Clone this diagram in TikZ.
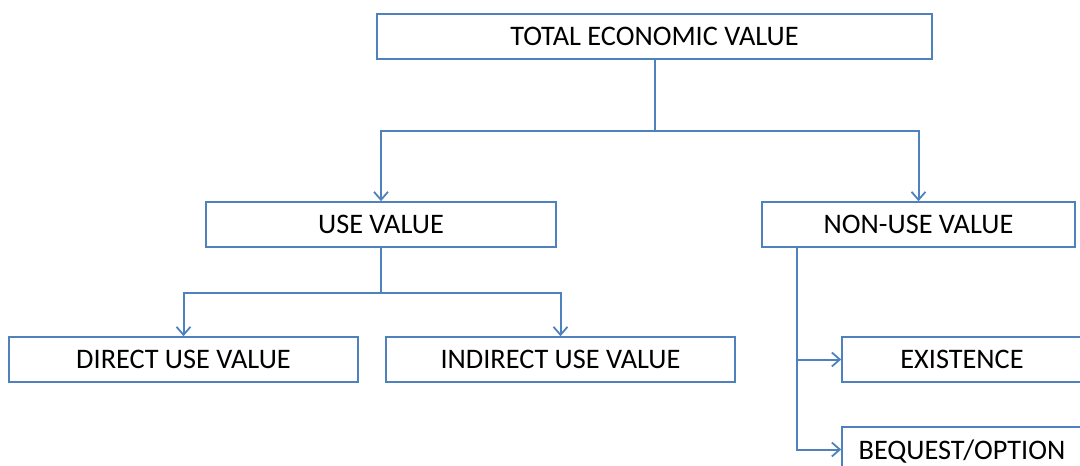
\documentclass[tikz,border=0pt]{standalone}
\usepackage{fontspec}
\setmainfont{Carlito}
\usetikzlibrary{arrows.meta,calc}
\definecolor{obl}{HTML}{4F81BD}
\begin{document}
\begin{tikzpicture}[x=1pt,y=-1pt,
  box/.style={draw=obl, line width=1.6pt, rectangle, inner sep=0pt, minimum height=45pt,
    text depth=0pt, font=\fontsize{28.3}{31}\selectfont, text=black},
  conn/.style={draw=obl, line width=2pt},
  arr/.style={conn, -{Straight Barb[length=8pt,width=14pt,line width=1.8pt]}}]
\useasboundingbox (0,0) rectangle (1080,466);
\clip (0,0) rectangle (1080,466);
\node[box, minimum width=555pt] (tev) at (654.5,36.5) {TOTAL ECONOMIC VALUE};
\node[box, minimum width=350pt] (use) at (381,224.5) {USE VALUE};
\node[box, minimum width=313pt] (nonuse) at (918.5,224.5) {NON-USE VALUE};
\node[box, minimum width=349pt] (direct) at (183.5,359.5) {DIRECT USE VALUE};
\node[box, minimum width=349pt] (indirect) at (560.5,359.5) {INDIRECT USE VALUE};
\node[box, minimum width=240pt] (exist) at (962,359.5) {EXISTENCE};
\node[box, minimum width=240pt] (bequest) at (962,449.5) {BEQUEST/OPTION};
\draw[arr] (tev.south) -- ++(0,71) -| (use.north);
\draw[arr] (tev.south) -- ++(0,71) -| (nonuse.north);
\draw[arr] (use.south) -- ++(0,45) -| (direct.north);
\draw[arr] (use.south) -- ++(0,45) -| (indirect.north);
\coordinate (nu) at ($(nonuse.south west)+(36,0)$);
\draw[arr] (nu) |- (exist.west);
\draw[arr] (nu) |- (bequest.west);
\end{tikzpicture}
\end{document}
